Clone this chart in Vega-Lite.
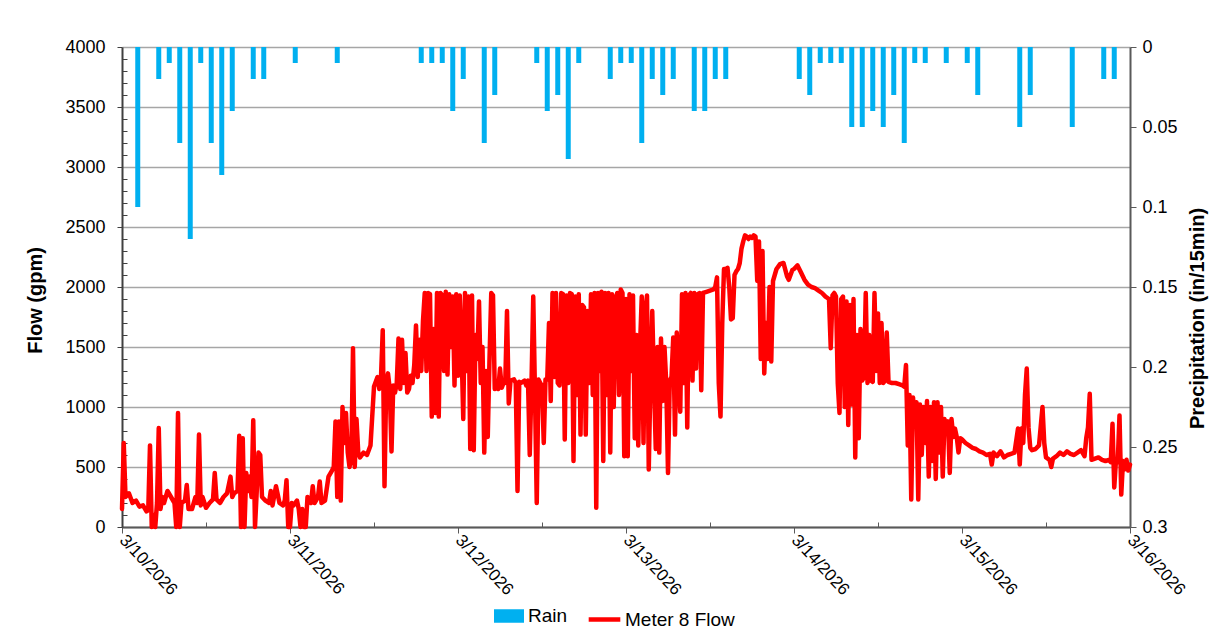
{
  "$schema": "https://vega.github.io/schema/vega-lite/v6.json",
  "width": 1008,
  "height": 480,
  "autosize": {"type": "none"},
  "padding": {"left": 122, "top": 47, "right": 84, "bottom": 109},
  "background": "white",
  "config": {
    "view": {"stroke": null},
    "font": "Liberation Sans",
    "axis": {"labelFont": "Liberation Sans", "titleFont": "Liberation Sans", "labelColor": "#000000", "titleColor": "#000000"},
    "legend": {"labelFont": "Liberation Sans", "labelColor": "#000000"}
  },
  "datasets": {
    "rain": [
      {"t":"2026-03-10T02:15","p":0.10},{"t":"2026-03-10T05:15","p":0.02},{"t":"2026-03-10T06:45","p":0.01},{"t":"2026-03-10T08:15","p":0.06},
      {"t":"2026-03-10T09:45","p":0.12},{"t":"2026-03-10T11:15","p":0.01},{"t":"2026-03-10T12:45","p":0.06},{"t":"2026-03-10T14:15","p":0.08},
      {"t":"2026-03-10T15:45","p":0.04},{"t":"2026-03-10T18:45","p":0.02},{"t":"2026-03-10T20:15","p":0.02},{"t":"2026-03-11T00:45","p":0.01},
      {"t":"2026-03-11T06:45","p":0.01},{"t":"2026-03-11T18:45","p":0.01},{"t":"2026-03-11T20:15","p":0.01},{"t":"2026-03-11T21:45","p":0.01},
      {"t":"2026-03-11T23:15","p":0.04},{"t":"2026-03-12T00:45","p":0.02},{"t":"2026-03-12T03:45","p":0.06},{"t":"2026-03-12T05:15","p":0.03},
      {"t":"2026-03-12T11:15","p":0.01},{"t":"2026-03-12T12:45","p":0.04},{"t":"2026-03-12T14:15","p":0.03},{"t":"2026-03-12T15:45","p":0.07},
      {"t":"2026-03-12T17:15","p":0.01},{"t":"2026-03-12T21:45","p":0.02},{"t":"2026-03-12T23:15","p":0.01},{"t":"2026-03-13T00:45","p":0.01},
      {"t":"2026-03-13T02:15","p":0.06},{"t":"2026-03-13T03:45","p":0.02},{"t":"2026-03-13T05:15","p":0.03},{"t":"2026-03-13T06:45","p":0.02},
      {"t":"2026-03-13T09:45","p":0.04},{"t":"2026-03-13T11:15","p":0.04},{"t":"2026-03-13T12:45","p":0.02},{"t":"2026-03-13T14:15","p":0.02},
      {"t":"2026-03-14T00:45","p":0.02},{"t":"2026-03-14T02:15","p":0.03},{"t":"2026-03-14T03:45","p":0.01},{"t":"2026-03-14T05:15","p":0.01},
      {"t":"2026-03-14T06:45","p":0.01},{"t":"2026-03-14T08:15","p":0.05},{"t":"2026-03-14T09:45","p":0.05},{"t":"2026-03-14T11:15","p":0.04},
      {"t":"2026-03-14T12:45","p":0.05},{"t":"2026-03-14T14:15","p":0.03},{"t":"2026-03-14T15:45","p":0.06},{"t":"2026-03-14T17:15","p":0.01},
      {"t":"2026-03-14T18:45","p":0.01},{"t":"2026-03-14T21:45","p":0.01},{"t":"2026-03-15T00:45","p":0.01},{"t":"2026-03-15T02:15","p":0.03},
      {"t":"2026-03-15T08:15","p":0.05},{"t":"2026-03-15T09:45","p":0.03},{"t":"2026-03-15T15:45","p":0.05},{"t":"2026-03-15T20:15","p":0.02},
      {"t":"2026-03-15T21:45","p":0.02}
    ],
    "flow": [
      {"t":"2026-03-10T00:00","f":150},{"t":"2026-03-10T00:15","f":700},{"t":"2026-03-10T00:30","f":250},{"t":"2026-03-10T01:00","f":280},
      {"t":"2026-03-10T01:30","f":200},{"t":"2026-03-10T02:00","f":220},{"t":"2026-03-10T02:30","f":170},{"t":"2026-03-10T03:00","f":180},
      {"t":"2026-03-10T03:30","f":130},{"t":"2026-03-10T03:45","f":140},{"t":"2026-03-10T04:00","f":680},{"t":"2026-03-10T04:15","f":0},
      {"t":"2026-03-10T04:30","f":100},{"t":"2026-03-10T04:45","f":0},{"t":"2026-03-10T05:00","f":200},{"t":"2026-03-10T05:15","f":825},
      {"t":"2026-03-10T05:30","f":150},{"t":"2026-03-10T05:45","f":250},{"t":"2026-03-10T06:00","f":200},{"t":"2026-03-10T06:30","f":300},
      {"t":"2026-03-10T07:00","f":250},{"t":"2026-03-10T07:30","f":200},{"t":"2026-03-10T07:45","f":0},{"t":"2026-03-10T08:00","f":950},
      {"t":"2026-03-10T08:15","f":0},{"t":"2026-03-10T08:30","f":200},{"t":"2026-03-10T09:00","f":220},{"t":"2026-03-10T09:15","f":350},
      {"t":"2026-03-10T09:30","f":150},{"t":"2026-03-10T10:00","f":150},{"t":"2026-03-10T10:30","f":250},{"t":"2026-03-10T10:45","f":200},
      {"t":"2026-03-10T11:00","f":770},{"t":"2026-03-10T11:15","f":180},{"t":"2026-03-10T11:30","f":250},{"t":"2026-03-10T12:00","f":160},
      {"t":"2026-03-10T12:30","f":200},{"t":"2026-03-10T13:00","f":230},{"t":"2026-03-10T13:15","f":450},{"t":"2026-03-10T13:30","f":230},
      {"t":"2026-03-10T14:00","f":200},{"t":"2026-03-10T14:30","f":250},{"t":"2026-03-10T15:00","f":280},{"t":"2026-03-10T15:30","f":420},
      {"t":"2026-03-10T15:45","f":250},{"t":"2026-03-10T16:00","f":280},{"t":"2026-03-10T16:30","f":300},{"t":"2026-03-10T16:45","f":760},
      {"t":"2026-03-10T17:00","f":0},{"t":"2026-03-10T17:15","f":740},{"t":"2026-03-10T17:30","f":0},{"t":"2026-03-10T17:45","f":450},
      {"t":"2026-03-10T18:00","f":300},{"t":"2026-03-10T18:15","f":420},{"t":"2026-03-10T18:30","f":250},{"t":"2026-03-10T18:45","f":890},
      {"t":"2026-03-10T19:00","f":0},{"t":"2026-03-10T19:15","f":300},{"t":"2026-03-10T19:30","f":620},{"t":"2026-03-10T19:45","f":600},
      {"t":"2026-03-10T20:00","f":250},{"t":"2026-03-10T20:30","f":220},{"t":"2026-03-10T21:00","f":200},{"t":"2026-03-10T21:15","f":300},
      {"t":"2026-03-10T21:30","f":180},{"t":"2026-03-10T22:00","f":340},{"t":"2026-03-10T22:30","f":200},{"t":"2026-03-10T23:00","f":180},
      {"t":"2026-03-10T23:15","f":220},{"t":"2026-03-10T23:30","f":390},{"t":"2026-03-10T23:45","f":0},
      {"t":"2026-03-11T00:00","f":0},{"t":"2026-03-11T00:15","f":200},{"t":"2026-03-11T00:30","f":180},{"t":"2026-03-11T01:00","f":220},
      {"t":"2026-03-11T01:15","f":150},{"t":"2026-03-11T01:30","f":0},{"t":"2026-03-11T01:45","f":150},{"t":"2026-03-11T02:00","f":0},
      {"t":"2026-03-11T02:15","f":0},{"t":"2026-03-11T02:30","f":250},{"t":"2026-03-11T03:00","f":200},{"t":"2026-03-11T03:15","f":340},
      {"t":"2026-03-11T03:30","f":200},{"t":"2026-03-11T04:00","f":250},{"t":"2026-03-11T04:15","f":380},{"t":"2026-03-11T04:30","f":200},
      {"t":"2026-03-11T05:00","f":220},{"t":"2026-03-11T05:30","f":420},{"t":"2026-03-11T06:00","f":470},{"t":"2026-03-11T06:15","f":500},
      {"t":"2026-03-11T06:30","f":880},{"t":"2026-03-11T06:45","f":250},{"t":"2026-03-11T07:00","f":880},{"t":"2026-03-11T07:15","f":220},
      {"t":"2026-03-11T07:30","f":1000},{"t":"2026-03-11T07:45","f":700},{"t":"2026-03-11T08:00","f":950},{"t":"2026-03-11T08:15","f":620},
      {"t":"2026-03-11T08:30","f":500},{"t":"2026-03-11T08:45","f":560},{"t":"2026-03-11T09:00","f":1490},{"t":"2026-03-11T09:15","f":500},
      {"t":"2026-03-11T09:30","f":900},{"t":"2026-03-11T09:45","f":620},{"t":"2026-03-11T10:00","f":580},{"t":"2026-03-11T10:30","f":620},
      {"t":"2026-03-11T11:00","f":600},{"t":"2026-03-11T11:30","f":680},{"t":"2026-03-11T12:00","f":1170},{"t":"2026-03-11T12:30","f":1250},
      {"t":"2026-03-11T12:45","f":1150},{"t":"2026-03-11T13:00","f":1250},{"t":"2026-03-11T13:15","f":1640},{"t":"2026-03-11T13:30","f":340},
      {"t":"2026-03-11T13:45","f":1200},{"t":"2026-03-11T14:00","f":1280},{"t":"2026-03-11T14:15","f":1150},{"t":"2026-03-11T14:30","f":630},
      {"t":"2026-03-11T14:45","f":1180},{"t":"2026-03-11T15:00","f":1120},{"t":"2026-03-11T15:15","f":1200},{"t":"2026-03-11T15:30","f":1570},
      {"t":"2026-03-11T15:45","f":1150},{"t":"2026-03-11T16:00","f":1560},{"t":"2026-03-11T16:15","f":1200},{"t":"2026-03-11T16:30","f":1450},
      {"t":"2026-03-11T16:45","f":1120},{"t":"2026-03-11T17:00","f":1150},{"t":"2026-03-11T17:15","f":1260},{"t":"2026-03-11T17:30","f":1200},
      {"t":"2026-03-11T17:45","f":1350},{"t":"2026-03-11T18:00","f":1680},{"t":"2026-03-11T18:15","f":1250},{"t":"2026-03-11T18:30","f":1560},
      {"t":"2026-03-11T18:45","f":1300},{"t":"2026-03-11T19:00","f":1720},{"t":"2026-03-11T19:15","f":1950},{"t":"2026-03-11T19:30","f":1300},
      {"t":"2026-03-11T19:45","f":1950},{"t":"2026-03-11T20:00","f":1940},{"t":"2026-03-11T20:15","f":920},{"t":"2026-03-11T20:30","f":1650},
      {"t":"2026-03-11T20:45","f":950},{"t":"2026-03-11T21:00","f":1950},{"t":"2026-03-11T21:15","f":920},{"t":"2026-03-11T21:30","f":1950},
      {"t":"2026-03-11T21:45","f":1930},{"t":"2026-03-11T22:00","f":1300},{"t":"2026-03-11T22:15","f":1960},{"t":"2026-03-11T22:30","f":1270},
      {"t":"2026-03-11T22:45","f":1940},{"t":"2026-03-11T23:00","f":1500},{"t":"2026-03-11T23:15","f":1920},{"t":"2026-03-11T23:30","f":1180},
      {"t":"2026-03-11T23:45","f":1940},
      {"t":"2026-03-12T00:00","f":1260},{"t":"2026-03-12T00:15","f":1930},{"t":"2026-03-12T00:30","f":1500},{"t":"2026-03-12T00:45","f":900},
      {"t":"2026-03-12T01:00","f":1950},{"t":"2026-03-12T01:15","f":1300},{"t":"2026-03-12T01:30","f":1920},{"t":"2026-03-12T01:45","f":650},
      {"t":"2026-03-12T02:00","f":1930},{"t":"2026-03-12T02:15","f":640},{"t":"2026-03-12T02:30","f":1600},{"t":"2026-03-12T02:45","f":1400},
      {"t":"2026-03-12T03:00","f":1880},{"t":"2026-03-12T03:15","f":1200},{"t":"2026-03-12T03:30","f":1500},{"t":"2026-03-12T03:45","f":620},
      {"t":"2026-03-12T04:00","f":1300},{"t":"2026-03-12T04:15","f":750},{"t":"2026-03-12T04:30","f":1400},{"t":"2026-03-12T04:45","f":1950},
      {"t":"2026-03-12T05:00","f":1930},{"t":"2026-03-12T05:15","f":1150},{"t":"2026-03-12T05:30","f":1200},{"t":"2026-03-12T05:45","f":1150},
      {"t":"2026-03-12T06:00","f":1320},{"t":"2026-03-12T06:15","f":1160},{"t":"2026-03-12T06:30","f":1200},{"t":"2026-03-12T06:45","f":1200},
      {"t":"2026-03-12T07:00","f":1800},{"t":"2026-03-12T07:15","f":1030},{"t":"2026-03-12T07:30","f":1220},{"t":"2026-03-12T08:00","f":1230},
      {"t":"2026-03-12T08:15","f":1200},{"t":"2026-03-12T08:30","f":300},{"t":"2026-03-12T08:45","f":1210},{"t":"2026-03-12T09:00","f":1200},
      {"t":"2026-03-12T09:30","f":1220},{"t":"2026-03-12T09:45","f":1180},{"t":"2026-03-12T10:00","f":1220},{"t":"2026-03-12T10:15","f":600},
      {"t":"2026-03-12T10:30","f":1200},{"t":"2026-03-12T10:45","f":1920},{"t":"2026-03-12T11:00","f":1100},{"t":"2026-03-12T11:15","f":200},
      {"t":"2026-03-12T11:30","f":1230},{"t":"2026-03-12T11:45","f":1200},{"t":"2026-03-12T12:00","f":1180},{"t":"2026-03-12T12:15","f":700},
      {"t":"2026-03-12T12:30","f":1230},{"t":"2026-03-12T12:45","f":1230},{"t":"2026-03-12T13:00","f":1700},{"t":"2026-03-12T13:15","f":1050},
      {"t":"2026-03-12T13:30","f":1950},{"t":"2026-03-12T13:45","f":1250},{"t":"2026-03-12T14:00","f":1950},{"t":"2026-03-12T14:15","f":1200},
      {"t":"2026-03-12T14:30","f":1180},{"t":"2026-03-12T14:45","f":1950},{"t":"2026-03-12T15:00","f":1940},{"t":"2026-03-12T15:15","f":730},
      {"t":"2026-03-12T15:30","f":1930},{"t":"2026-03-12T15:45","f":1200},{"t":"2026-03-12T16:00","f":1950},{"t":"2026-03-12T16:15","f":1940},
      {"t":"2026-03-12T16:30","f":550},{"t":"2026-03-12T16:45","f":1920},{"t":"2026-03-12T17:00","f":1100},{"t":"2026-03-12T17:15","f":1940},
      {"t":"2026-03-12T17:30","f":770},{"t":"2026-03-12T17:45","f":1850},{"t":"2026-03-12T18:00","f":1830},{"t":"2026-03-12T18:15","f":770},
      {"t":"2026-03-12T18:30","f":1800},{"t":"2026-03-12T18:45","f":1200},{"t":"2026-03-12T19:00","f":1940},{"t":"2026-03-12T19:15","f":1100},
      {"t":"2026-03-12T19:30","f":1950},{"t":"2026-03-12T19:45","f":160},{"t":"2026-03-12T20:00","f":1950},{"t":"2026-03-12T20:15","f":1300},
      {"t":"2026-03-12T20:30","f":1960},{"t":"2026-03-12T20:45","f":550},{"t":"2026-03-12T21:00","f":1950},{"t":"2026-03-12T21:15","f":1100},
      {"t":"2026-03-12T21:30","f":1950},{"t":"2026-03-12T21:45","f":620},{"t":"2026-03-12T22:00","f":1940},{"t":"2026-03-12T22:15","f":1000},
      {"t":"2026-03-12T22:30","f":1900},{"t":"2026-03-12T22:45","f":1950},{"t":"2026-03-12T23:00","f":1100},{"t":"2026-03-12T23:15","f":1980},
      {"t":"2026-03-12T23:30","f":1950},{"t":"2026-03-12T23:45","f":590},
      {"t":"2026-03-13T00:00","f":1900},{"t":"2026-03-13T00:15","f":590},{"t":"2026-03-13T00:30","f":1940},{"t":"2026-03-13T00:45","f":1300},
      {"t":"2026-03-13T01:00","f":1930},{"t":"2026-03-13T01:15","f":740},{"t":"2026-03-13T01:30","f":1600},{"t":"2026-03-13T01:45","f":680},
      {"t":"2026-03-13T02:00","f":1500},{"t":"2026-03-13T02:15","f":1920},{"t":"2026-03-13T02:30","f":700},{"t":"2026-03-13T02:45","f":1800},
      {"t":"2026-03-13T03:00","f":1930},{"t":"2026-03-13T03:15","f":480},{"t":"2026-03-13T03:30","f":1250},{"t":"2026-03-13T03:45","f":1800},
      {"t":"2026-03-13T04:00","f":1200},{"t":"2026-03-13T04:15","f":650},{"t":"2026-03-13T04:30","f":1500},{"t":"2026-03-13T04:45","f":620},
      {"t":"2026-03-13T05:00","f":1570},{"t":"2026-03-13T05:15","f":1050},{"t":"2026-03-13T05:30","f":1500},{"t":"2026-03-13T05:45","f":1200},
      {"t":"2026-03-13T06:00","f":450},{"t":"2026-03-13T06:15","f":1220},{"t":"2026-03-13T06:30","f":1250},{"t":"2026-03-13T06:45","f":1580},
      {"t":"2026-03-13T07:00","f":770},{"t":"2026-03-13T07:15","f":1620},{"t":"2026-03-13T07:30","f":1300},{"t":"2026-03-13T07:45","f":960},
      {"t":"2026-03-13T08:00","f":1940},{"t":"2026-03-13T08:15","f":1200},{"t":"2026-03-13T08:30","f":1950},{"t":"2026-03-13T08:45","f":830},
      {"t":"2026-03-13T09:00","f":1930},{"t":"2026-03-13T09:15","f":1950},{"t":"2026-03-13T09:30","f":1220},{"t":"2026-03-13T09:45","f":1950},
      {"t":"2026-03-13T10:00","f":1320},{"t":"2026-03-13T10:15","f":1940},{"t":"2026-03-13T10:30","f":1950},{"t":"2026-03-13T10:45","f":1140},
      {"t":"2026-03-13T11:00","f":1950},{"t":"2026-03-13T11:15","f":1955},{"t":"2026-03-13T11:30","f":1960},{"t":"2026-03-13T12:00","f":1970},
      {"t":"2026-03-13T12:30","f":1980},{"t":"2026-03-13T12:45","f":2000},{"t":"2026-03-13T13:00","f":2080},{"t":"2026-03-13T13:15","f":1200},
      {"t":"2026-03-13T13:30","f":920},{"t":"2026-03-13T13:45","f":1700},{"t":"2026-03-13T14:00","f":2150},{"t":"2026-03-13T14:15","f":2150},
      {"t":"2026-03-13T14:30","f":2160},{"t":"2026-03-13T14:45","f":2000},{"t":"2026-03-13T15:00","f":1730},{"t":"2026-03-13T15:15","f":1740},
      {"t":"2026-03-13T15:30","f":2100},{"t":"2026-03-13T15:45","f":2130},{"t":"2026-03-13T16:00","f":2150},{"t":"2026-03-13T16:15","f":2200},
      {"t":"2026-03-13T16:30","f":2320},{"t":"2026-03-13T16:45","f":2380},{"t":"2026-03-13T17:00","f":2430},{"t":"2026-03-13T17:15","f":2420},
      {"t":"2026-03-13T17:30","f":2400},{"t":"2026-03-13T17:45","f":2420},{"t":"2026-03-13T18:00","f":2410},{"t":"2026-03-13T18:15","f":2430},
      {"t":"2026-03-13T18:30","f":2420},{"t":"2026-03-13T18:45","f":2050},{"t":"2026-03-13T19:00","f":2380},{"t":"2026-03-13T19:15","f":1400},
      {"t":"2026-03-13T19:30","f":2300},{"t":"2026-03-13T19:45","f":1280},{"t":"2026-03-13T20:00","f":1700},{"t":"2026-03-13T20:15","f":1400},
      {"t":"2026-03-13T20:30","f":2000},{"t":"2026-03-13T20:45","f":1380},{"t":"2026-03-13T21:00","f":2050},{"t":"2026-03-13T21:15","f":2100},
      {"t":"2026-03-13T21:30","f":2150},{"t":"2026-03-13T21:45","f":2170},{"t":"2026-03-13T22:00","f":2190},{"t":"2026-03-13T22:30","f":2200},
      {"t":"2026-03-13T23:00","f":2090},{"t":"2026-03-13T23:15","f":2060},{"t":"2026-03-13T23:30","f":2100},{"t":"2026-03-13T23:45","f":2140},
      {"t":"2026-03-14T00:00","f":2150},{"t":"2026-03-14T00:30","f":2180},{"t":"2026-03-14T01:00","f":2120},{"t":"2026-03-14T01:30","f":2060},
      {"t":"2026-03-14T02:00","f":2020},{"t":"2026-03-14T02:30","f":2000},{"t":"2026-03-14T03:00","f":1990},{"t":"2026-03-14T03:30","f":1970},
      {"t":"2026-03-14T04:00","f":1950},{"t":"2026-03-14T04:30","f":1920},{"t":"2026-03-14T05:00","f":1900},{"t":"2026-03-14T05:15","f":1490},
      {"t":"2026-03-14T05:30","f":1930},{"t":"2026-03-14T05:45","f":1950},{"t":"2026-03-14T06:00","f":1920},{"t":"2026-03-14T06:15","f":1200},
      {"t":"2026-03-14T06:30","f":950},{"t":"2026-03-14T06:45","f":1900},{"t":"2026-03-14T07:00","f":1920},{"t":"2026-03-14T07:15","f":1000},
      {"t":"2026-03-14T07:30","f":1880},{"t":"2026-03-14T07:45","f":850},{"t":"2026-03-14T08:00","f":1850},{"t":"2026-03-14T08:15","f":1020},
      {"t":"2026-03-14T08:30","f":1900},{"t":"2026-03-14T08:45","f":580},{"t":"2026-03-14T09:00","f":1600},{"t":"2026-03-14T09:15","f":740},
      {"t":"2026-03-14T09:30","f":1650},{"t":"2026-03-14T09:45","f":1220},{"t":"2026-03-14T10:00","f":1250},{"t":"2026-03-14T10:15","f":1950},
      {"t":"2026-03-14T10:30","f":1200},{"t":"2026-03-14T10:45","f":1600},{"t":"2026-03-14T11:00","f":1220},{"t":"2026-03-14T11:15","f":1210},
      {"t":"2026-03-14T11:30","f":1950},{"t":"2026-03-14T11:45","f":1300},{"t":"2026-03-14T12:00","f":1780},{"t":"2026-03-14T12:15","f":1200},
      {"t":"2026-03-14T12:30","f":1700},{"t":"2026-03-14T12:45","f":1200},{"t":"2026-03-14T13:00","f":1220},{"t":"2026-03-14T13:15","f":1620},
      {"t":"2026-03-14T13:30","f":1210},{"t":"2026-03-14T14:00","f":1200},{"t":"2026-03-14T14:30","f":1200},{"t":"2026-03-14T15:00","f":1190},
      {"t":"2026-03-14T15:30","f":1180},{"t":"2026-03-14T15:45","f":1170},{"t":"2026-03-14T16:00","f":1350},{"t":"2026-03-14T16:15","f":680},
      {"t":"2026-03-14T16:30","f":1100},{"t":"2026-03-14T16:45","f":230},{"t":"2026-03-14T17:00","f":1080},{"t":"2026-03-14T17:15","f":900},
      {"t":"2026-03-14T17:30","f":1040},{"t":"2026-03-14T17:45","f":230},{"t":"2026-03-14T18:00","f":1020},{"t":"2026-03-14T18:15","f":600},
      {"t":"2026-03-14T18:30","f":1000},{"t":"2026-03-14T18:45","f":700},{"t":"2026-03-14T19:00","f":1050},{"t":"2026-03-14T19:15","f":420},
      {"t":"2026-03-14T19:30","f":1000},{"t":"2026-03-14T19:45","f":550},{"t":"2026-03-14T20:00","f":1040},{"t":"2026-03-14T20:15","f":400},
      {"t":"2026-03-14T20:30","f":1040},{"t":"2026-03-14T20:45","f":620},{"t":"2026-03-14T21:00","f":1000},{"t":"2026-03-14T21:15","f":420},
      {"t":"2026-03-14T21:30","f":900},{"t":"2026-03-14T21:45","f":800},{"t":"2026-03-14T22:00","f":880},{"t":"2026-03-14T22:15","f":450},
      {"t":"2026-03-14T22:30","f":900},{"t":"2026-03-14T22:45","f":750},{"t":"2026-03-14T23:00","f":820},{"t":"2026-03-14T23:15","f":750},
      {"t":"2026-03-14T23:30","f":620},{"t":"2026-03-14T23:45","f":740},
      {"t":"2026-03-15T00:00","f":730},{"t":"2026-03-15T00:30","f":700},{"t":"2026-03-15T01:00","f":680},{"t":"2026-03-15T01:30","f":660},
      {"t":"2026-03-15T02:00","f":650},{"t":"2026-03-15T02:30","f":630},{"t":"2026-03-15T03:00","f":620},{"t":"2026-03-15T03:30","f":600},
      {"t":"2026-03-15T04:00","f":610},{"t":"2026-03-15T04:15","f":520},{"t":"2026-03-15T04:30","f":620},{"t":"2026-03-15T05:00","f":590},
      {"t":"2026-03-15T05:30","f":630},{"t":"2026-03-15T06:00","f":580},{"t":"2026-03-15T06:30","f":600},{"t":"2026-03-15T07:00","f":610},
      {"t":"2026-03-15T07:30","f":620},{"t":"2026-03-15T08:00","f":820},{"t":"2026-03-15T08:15","f":520},{"t":"2026-03-15T08:30","f":820},
      {"t":"2026-03-15T08:45","f":700},{"t":"2026-03-15T09:00","f":1100},{"t":"2026-03-15T09:15","f":1320},{"t":"2026-03-15T09:30","f":830},
      {"t":"2026-03-15T09:45","f":660},{"t":"2026-03-15T10:00","f":640},{"t":"2026-03-15T10:30","f":650},{"t":"2026-03-15T11:00","f":680},
      {"t":"2026-03-15T11:30","f":1000},{"t":"2026-03-15T11:45","f":700},{"t":"2026-03-15T12:00","f":580},{"t":"2026-03-15T12:30","f":560},
      {"t":"2026-03-15T12:45","f":500},{"t":"2026-03-15T13:00","f":570},{"t":"2026-03-15T13:30","f":590},{"t":"2026-03-15T14:00","f":620},
      {"t":"2026-03-15T14:30","f":600},{"t":"2026-03-15T15:00","f":630},{"t":"2026-03-15T15:30","f":610},{"t":"2026-03-15T16:00","f":600},
      {"t":"2026-03-15T16:30","f":620},{"t":"2026-03-15T17:00","f":640},{"t":"2026-03-15T17:30","f":590},{"t":"2026-03-15T17:45","f":740},
      {"t":"2026-03-15T18:00","f":830},{"t":"2026-03-15T18:15","f":1110},{"t":"2026-03-15T18:30","f":560},{"t":"2026-03-15T19:00","f":570},
      {"t":"2026-03-15T19:30","f":580},{"t":"2026-03-15T20:00","f":560},{"t":"2026-03-15T20:30","f":550},{"t":"2026-03-15T21:00","f":560},
      {"t":"2026-03-15T21:15","f":540},{"t":"2026-03-15T21:30","f":860},{"t":"2026-03-15T21:45","f":330},{"t":"2026-03-15T22:00","f":560},
      {"t":"2026-03-15T22:15","f":540},{"t":"2026-03-15T22:30","f":930},{"t":"2026-03-15T22:45","f":270},{"t":"2026-03-15T23:00","f":550},
      {"t":"2026-03-15T23:15","f":480},{"t":"2026-03-15T23:30","f":560},{"t":"2026-03-15T23:45","f":470},{"t":"2026-03-16T00:00","f":520}
    ]
  },
  "layer": [
    {
      "data": {"name": "flow"},
      "mark": {"type": "line", "strokeOpacity": 0},
      "encoding": {
        "x": {
          "field": "t", "type": "temporal",
          "scale": {"domain": [{"year": 2026, "month": 3, "date": 10}, {"year": 2026, "month": 3, "date": 16}], "padding": 0},
          "axis": {
            "orient": "bottom", "title": null, "labels": false, "grid": false, "domain": false,
            "values": [{"year": 2026, "month": 3, "date": 10, "hours": 12}, {"year": 2026, "month": 3, "date": 11, "hours": 12}, {"year": 2026, "month": 3, "date": 12, "hours": 12}, {"year": 2026, "month": 3, "date": 13, "hours": 12}, {"year": 2026, "month": 3, "date": 14, "hours": 12}, {"year": 2026, "month": 3, "date": 15, "hours": 12}],
            "tickSize": -5, "tickColor": "#595959", "tickWidth": 1
          }
        },
        "y": {
          "field": "f", "type": "quantitative",
          "scale": {"domain": [0, 4000], "nice": false},
          "axis": {
            "orient": "left", "title": null, "labels": false, "grid": false, "domain": false,
            "values": [100, 200, 300, 400, 600, 700, 800, 900, 1100, 1200, 1300, 1400, 1600, 1700, 1800, 1900, 2100, 2200, 2300, 2400, 2600, 2700, 2800, 2900, 3100, 3200, 3300, 3400, 3600, 3700, 3800, 3900],
            "tickSize": -5, "tickColor": "#404040", "tickWidth": 1
          }
        }
      }
    },
    {
      "data": {"name": "rain"},
      "mark": {"type": "bar", "size": 5},
      "encoding": {
        "x": {
          "field": "t", "type": "temporal",
          "scale": {"domain": [{"year": 2026, "month": 3, "date": 10}, {"year": 2026, "month": 3, "date": 16}], "padding": 0},
          "axis": {
            "orient": "bottom", "title": null, "format": "%-m/%-d/%Y", "grid": false,
            "values": [{"year": 2026, "month": 3, "date": 10}, {"year": 2026, "month": 3, "date": 11}, {"year": 2026, "month": 3, "date": 12}, {"year": 2026, "month": 3, "date": 13}, {"year": 2026, "month": 3, "date": 14}, {"year": 2026, "month": 3, "date": 15}, {"year": 2026, "month": 3, "date": 16}],
            "labelAngle": 47, "labelAlign": "left", "labelBaseline": "middle", "labelFontSize": 17, "labelPadding": 4,
            "tickSize": 6, "tickColor": "#595959", "domainColor": "#595959", "domainWidth": 2, "labelOverlap": false
          }
        },
        "y": {
          "field": "p", "type": "quantitative",
          "scale": {"domain": [0, 0.3], "reverse": true, "nice": false, "zero": false},
          "axis": {
            "orient": "right", "title": "Precipitation (in/15min)", "grid": false,
            "values": [0, 0.05, 0.1, 0.15, 0.2, 0.25, 0.3], "format": "~g",
            "labelFontSize": 18, "labelPadding": 6, "tickSize": 6, "tickColor": "#595959",
            "domainColor": "#595959", "domainWidth": 2,
            "titleFontSize": 20, "titleFontWeight": "bold", "titleAngle": -90,
            "titleAlign": "center", "titleBaseline": "middle", "titleX": 67, "titleY": 271
          }
        },
        "color": {
          "datum": "Rain",
          "scale": {"domain": ["Rain"], "range": ["#00b0f0"]},
          "legend": {"title": null, "orient": "none", "legendX": 372, "legendY": 554, "symbolType": "M-1,-0.45H1V0.45H-1Z", "symbolSize": 900, "labelFontSize": 19, "labelOffset": 4, "symbolStrokeWidth": 0}
        }
      }
    },
    {
      "data": {"name": "flow"},
      "mark": {"type": "line", "strokeWidth": 4.5, "strokeJoin": "round", "strokeCap": "round"},
      "encoding": {
        "x": {
          "field": "t", "type": "temporal",
          "scale": {"domain": [{"year": 2026, "month": 3, "date": 10}, {"year": 2026, "month": 3, "date": 16}], "padding": 0},
          "axis": null
        },
        "y": {
          "field": "f", "type": "quantitative",
          "scale": {"domain": [0, 4000], "nice": false},
          "axis": {
            "orient": "left", "title": "Flow (gpm)", "grid": true, "gridColor": "#a6a6a6", "gridWidth": 1.5,
            "values": [0, 500, 1000, 1500, 2000, 2500, 3000, 3500, 4000], "format": "d",
            "labelFontSize": 18, "labelPadding": 12, "tickSize": 5, "tickColor": "#404040",
            "domainColor": "#404040", "domainWidth": 2,
            "titleFontSize": 20, "titleFontWeight": "bold", "titleAngle": -90,
            "titleAlign": "center", "titleBaseline": "middle", "titleX": -87, "titleY": 253
          }
        },
        "stroke": {
          "datum": "Meter 8 Flow",
          "scale": {"domain": ["Meter 8 Flow"], "range": ["#ff0000"]},
          "legend": {"title": null, "orient": "none", "legendX": 464, "legendY": 554, "symbolType": "stroke", "symbolSize": 1000, "symbolStrokeWidth": 4.5, "labelFontSize": 19, "labelOffset": 2}
        }
      }
    }
  ],
  "resolve": {"scale": {"y": "independent"}, "axis": {"x": "independent"}}
}
